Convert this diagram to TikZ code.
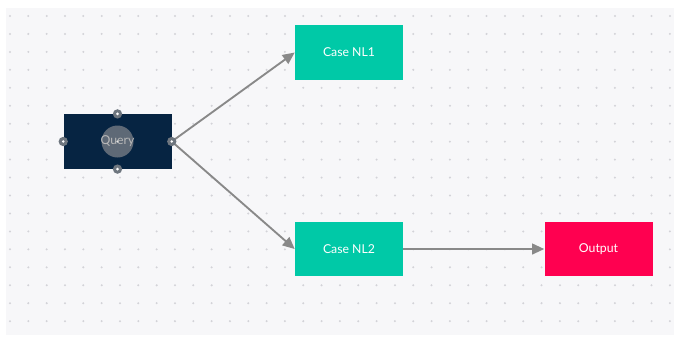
\documentclass[tikz,border=0pt]{standalone}
\usepackage{fontspec}
\setmainfont{Lato}
\usetikzlibrary{arrows.meta, positioning}
\definecolor{canvas}{HTML}{F7F7F9}
\definecolor{griddot}{HTML}{D3D3D8}
\definecolor{querynavy}{HTML}{062442}
\definecolor{focusgray}{HTML}{5E6976}
\definecolor{handlegray}{HTML}{6E767F}
\definecolor{casegreen}{HTML}{00C9A7}
\definecolor{outred}{HTML}{FF0050}
\definecolor{wire}{HTML}{898989}

\begin{document}
\begin{tikzpicture}[
  x=0.75pt, y=-0.75pt,
  box/.style={
    rectangle, minimum width=81pt, minimum height=41pt,
    font=\fontsize{9.2}{11}\selectfont, text=white, inner sep=0pt
  },
  querybox/.style={
    box, fill=querynavy, text=gray!55,
    path picture={
      \fill[focusgray] (path picture bounding box.center) circle (12pt);
      \fill[white] (path picture bounding box.center) circle (0.9pt);
    }
  },
  casebox/.style={box, fill=casegreen},
  outbox/.style={box, fill=outred},
  handle/.style={
    circle, fill=handlegray, minimum size=7pt, inner sep=0pt,
    path picture={\fill[white] (path picture bounding box.center) circle (1.1pt);}
  },
  wirearr/.style={-{Triangle[length=9pt, width=8pt]}, line width=1.4pt, wire},
]
  % Canvas with dot grid
  \useasboundingbox (0,0) rectangle (674,337);
  \fill[white] (0,0) rectangle (674,337);
  \fill[canvas] (6,8) rectangle (674,335);
  \foreach \i in {0,...,36}
    \foreach \j in {0,...,17}
      \fill[griddot] (10+18.33*\i, 16+17.95*\j) circle (0.85pt);

  % Nodes
  \node[querybox] (query) at (117.5,141.5) {Query};
  \node[casebox]  (nl1)   at (349,52.5)    {Case NL1};
  \node[casebox]  (nl2)   at (349,249)     {Case NL2};
  \node[outbox]   (out)   at (598.5,249)   {Output};

  % Connectors
  \draw[wirearr] (query.east) -- (nl1.west);
  \draw[wirearr] (query.east) -- (nl2.west);
  \draw[wirearr] (nl2.east) -- (out.west);

  % Selection handles
  \node[handle] (hn) at (query.north) {};
  \node[handle] (hs) at (query.south) {};
  \node[handle] (hw) at (query.west)  {};
  \node[handle] (he) at (query.east)  {};
\end{tikzpicture}
\end{document}
